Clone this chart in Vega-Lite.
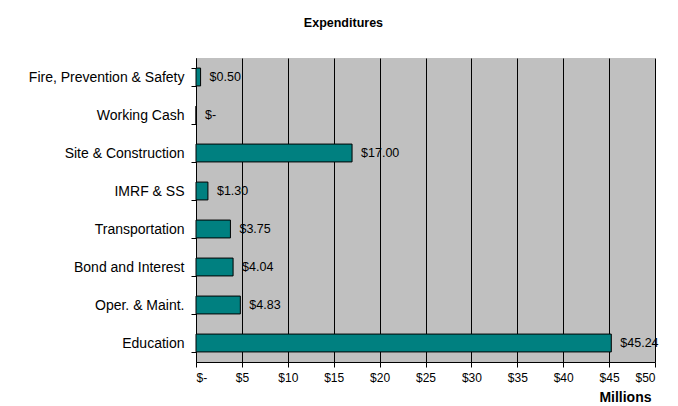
{
  "$schema": "https://vega.github.io/schema/vega-lite/v6.json",
  "autosize": "none",
  "width": 459,
  "height": 304,
  "padding": {"left": 196, "top": 58, "right": 23, "bottom": 44},
  "background": "white",
  "title": {
    "text": "Expenditures",
    "font": "Liberation Sans",
    "fontSize": 12.5,
    "fontWeight": "bold",
    "color": "black",
    "anchor": "middle",
    "frame": "bounds",
    "offset": 22
  },
  "config": {
    "view": {"fill": "#C0C0C0", "stroke": null},
    "font": "Liberation Sans"
  },
  "data": {
    "values": [
      {"category": "Fire, Prevention & Safety", "amount": 0.5},
      {"category": "Working Cash", "amount": 0},
      {"category": "Site & Construction", "amount": 17.0},
      {"category": "IMRF & SS", "amount": 1.3},
      {"category": "Transportation", "amount": 3.75},
      {"category": "Bond and Interest", "amount": 4.04},
      {"category": "Oper. & Maint.", "amount": 4.83},
      {"category": "Education", "amount": 45.24}
    ]
  },
  "transform": [
    {"calculate": "datum.amount == 0 ? '$-' : '$' + format(datum.amount, '.2f')", "as": "label"}
  ],
  "encoding": {
    "y": {
      "field": "category",
      "type": "nominal",
      "sort": null,
      "scale": {"paddingInner": 0.53, "paddingOuter": 0.265},
      "axis": {
        "title": null,
        "tickBand": "extent",
        "domainColor": "black",
        "tickColor": "black",
        "tickSize": 5,
        "labelFontSize": 14,
        "labelColor": "black",
        "labelPadding": 7,
        "labelFont": "Liberation Sans"
      }
    },
    "x": {
      "field": "amount",
      "type": "quantitative",
      "scale": {"domain": [0, 50], "nice": false},
      "axis": {
        "values": [0, 5, 10, 15, 20, 25, 30, 35, 40, 45, 50],
        "labelExpr": "datum.value == 0 ? '$-' : '$' + datum.value",
        "grid": true,
        "gridColor": "black",
        "gridOpacity": 1,
        "gridWidth": 1,
        "domainColor": "black",
        "tickColor": "black",
        "tickSize": 5,
        "labelFontSize": 12,
        "labelColor": "black",
        "labelPadding": 5,
        "title": "Millions",
        "titleFontSize": 14,
        "titleFontWeight": "bold",
        "titleColor": "black",
        "titleAnchor": "end",
        "titleAlign": "right",
        "titleX": 455,
        "titlePadding": 7
      }
    }
  },
  "layer": [
    {
      "mark": {"type": "bar", "fill": "#008080", "stroke": "black", "strokeWidth": 1}
    },
    {
      "mark": {"type": "text", "align": "left", "baseline": "middle", "dx": 9, "fontSize": 12.5, "color": "black", "font": "Liberation Sans"},
      "encoding": {"text": {"field": "label"}}
    }
  ]
}
